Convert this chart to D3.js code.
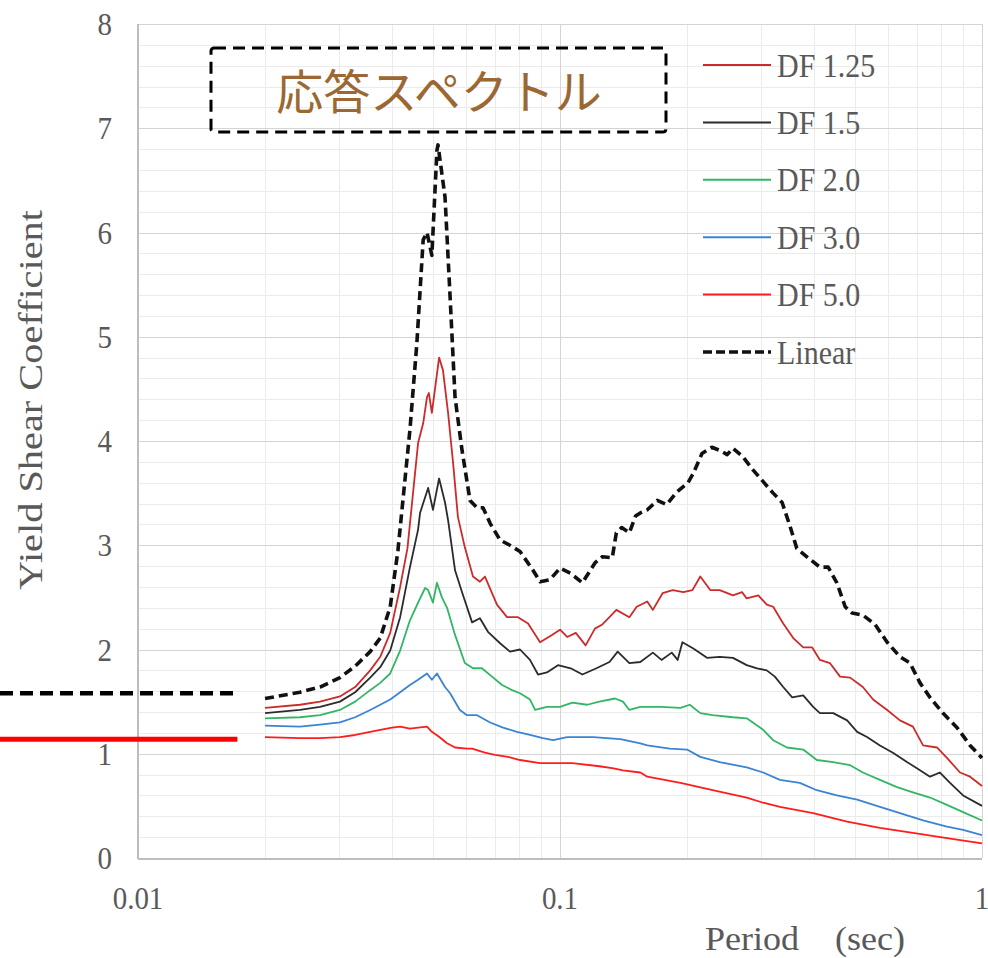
<!DOCTYPE html>
<html>
<head>
<meta charset="utf-8">
<script src="https://cdn.jsdelivr.net/npm/d3@7"></script>
<style>
  html, body { margin: 0; padding: 0; background: #fff; }
  svg { display: block; }
</style>
</head>
<body>
<svg id="chart"></svg>
<script>
/* Response spectrum: yield shear coefficient vs period, log x axis.
   Values. */

const seriesNames = ["DF 1.25", "DF 1.5", "DF 2.0", "DF 3.0", "DF 5.0", "Linear"];

// [period (sec), yield shear coefficient]
const df125 = [[0.020,1.44],[0.0242,1.47],[0.0270,1.50],[0.0301,1.55],[0.0327,1.64],[0.0355,1.80],[0.0375,1.93],[0.0396,2.16],[0.0418,2.60],[0.0435,2.97],[0.0461,3.98],[0.0474,4.17],[0.0484,4.42],[0.0489,4.46],[0.0497,4.27],[0.0517,4.80],[0.0528,4.68],[0.0543,4.27],[0.0558,3.79],[0.0573,3.27],[0.0595,2.98],[0.0622,2.70],[0.0646,2.65],[0.0664,2.70],[0.0709,2.43],[0.0749,2.31],[0.0795,2.31],[0.0840,2.25],[0.0897,2.07],[0.0957,2.14],[0.100,2.19],[0.104,2.12],[0.109,2.16],[0.115,2.04],[0.121,2.20],[0.126,2.24],[0.131,2.31],[0.136,2.38],[0.146,2.31],[0.152,2.41],[0.161,2.46],[0.166,2.38],[0.175,2.54],[0.185,2.57],[0.196,2.55],[0.206,2.57],[0.215,2.70],[0.227,2.57],[0.239,2.57],[0.257,2.52],[0.270,2.55],[0.277,2.49],[0.295,2.52],[0.309,2.43],[0.320,2.41],[0.338,2.25],[0.357,2.11],[0.377,2.02],[0.396,2.02],[0.413,1.90],[0.436,1.87],[0.461,1.74],[0.487,1.73],[0.522,1.64],[0.552,1.52],[0.596,1.42],[0.639,1.32],[0.686,1.26],[0.725,1.08],[0.782,1.06],[0.826,0.96],[0.887,0.82],[0.937,0.78],[1.0,0.69]];

const df15 = [[0.020,1.39],[0.0242,1.42],[0.0270,1.45],[0.0301,1.50],[0.0327,1.59],[0.0355,1.73],[0.0375,1.83],[0.0396,1.99],[0.0418,2.31],[0.0441,2.79],[0.0461,3.15],[0.0466,3.31],[0.0487,3.55],[0.0500,3.34],[0.0517,3.64],[0.0534,3.41],[0.0543,3.24],[0.0564,2.76],[0.0586,2.55],[0.0619,2.26],[0.0646,2.30],[0.0675,2.17],[0.0721,2.06],[0.0761,1.98],[0.0804,2.00],[0.0849,1.90],[0.0887,1.76],[0.0931,1.78],[0.0989,1.85],[0.106,1.82],[0.113,1.76],[0.122,1.82],[0.131,1.88],[0.137,1.98],[0.146,1.87],[0.155,1.88],[0.166,1.97],[0.174,1.90],[0.184,1.97],[0.190,1.90],[0.195,2.07],[0.207,2.01],[0.223,1.92],[0.239,1.93],[0.257,1.92],[0.277,1.85],[0.293,1.82],[0.309,1.80],[0.323,1.74],[0.338,1.64],[0.355,1.54],[0.377,1.56],[0.398,1.45],[0.413,1.39],[0.444,1.39],[0.479,1.32],[0.506,1.21],[0.534,1.16],[0.573,1.08],[0.615,1.01],[0.664,0.92],[0.701,0.86],[0.753,0.78],[0.795,0.82],[0.840,0.72],[0.902,0.60],[1.0,0.50]];

const df20 = [[0.020,1.34],[0.0242,1.35],[0.0270,1.37],[0.0301,1.42],[0.0327,1.50],[0.0355,1.61],[0.0375,1.68],[0.0396,1.77],[0.0418,1.99],[0.0441,2.28],[0.0461,2.45],[0.0479,2.59],[0.0487,2.57],[0.0500,2.45],[0.0511,2.64],[0.0525,2.50],[0.0540,2.40],[0.0564,2.14],[0.0595,1.87],[0.0622,1.82],[0.0653,1.82],[0.0690,1.74],[0.0729,1.66],[0.0770,1.61],[0.0804,1.58],[0.0849,1.52],[0.0873,1.42],[0.0931,1.45],[0.100,1.45],[0.107,1.49],[0.116,1.47],[0.124,1.50],[0.135,1.53],[0.141,1.50],[0.146,1.42],[0.155,1.45],[0.173,1.45],[0.193,1.44],[0.203,1.47],[0.215,1.39],[0.230,1.37],[0.257,1.35],[0.277,1.34],[0.303,1.23],[0.320,1.13],[0.345,1.06],[0.377,1.04],[0.406,0.94],[0.444,0.92],[0.487,0.89],[0.522,0.82],[0.573,0.75],[0.629,0.68],[0.686,0.63],[0.753,0.58],[0.826,0.51],[0.902,0.44],[1.0,0.36]];

const df30 = [[0.020,1.27],[0.0242,1.26],[0.0270,1.28],[0.0301,1.30],[0.0327,1.35],[0.0355,1.42],[0.0375,1.47],[0.0396,1.52],[0.0418,1.59],[0.0441,1.66],[0.0461,1.71],[0.0484,1.77],[0.0497,1.71],[0.0511,1.77],[0.0534,1.64],[0.0549,1.58],[0.0579,1.42],[0.0602,1.37],[0.0636,1.37],[0.0683,1.30],[0.0733,1.25],[0.0791,1.21],[0.0849,1.18],[0.0911,1.15],[0.0963,1.13],[0.104,1.16],[0.112,1.16],[0.120,1.16],[0.129,1.15],[0.139,1.14],[0.155,1.10],[0.161,1.08],[0.182,1.05],[0.200,1.04],[0.215,0.97],[0.239,0.92],[0.277,0.87],[0.303,0.82],[0.332,0.75],[0.370,0.72],[0.406,0.65],[0.453,0.60],[0.506,0.56],[0.573,0.49],[0.639,0.43],[0.725,0.36],[0.826,0.30],[0.902,0.27],[1.0,0.22]];

const df50 = [[0.020,1.16],[0.0242,1.15],[0.0270,1.15],[0.0301,1.16],[0.0327,1.18],[0.0355,1.21],[0.0375,1.23],[0.0400,1.25],[0.0418,1.26],[0.0441,1.24],[0.0461,1.25],[0.0484,1.26],[0.0497,1.21],[0.0514,1.17],[0.0540,1.10],[0.0564,1.06],[0.0602,1.05],[0.0619,1.05],[0.0664,1.01],[0.0701,0.99],[0.0753,0.97],[0.0804,0.94],[0.0897,0.91],[0.100,0.91],[0.107,0.91],[0.124,0.88],[0.134,0.86],[0.141,0.84],[0.155,0.82],[0.161,0.78],[0.193,0.72],[0.230,0.65],[0.277,0.58],[0.303,0.53],[0.332,0.49],[0.398,0.43],[0.479,0.35],[0.573,0.29],[0.686,0.24],[0.826,0.19],[1.0,0.14]];

const linear = [[0.020,1.53],[0.0242,1.59],[0.0270,1.64],[0.0301,1.73],[0.0327,1.84],[0.0355,1.98],[0.0375,2.11],[0.0396,2.41],[0.0413,2.95],[0.0441,4.11],[0.0458,4.94],[0.0474,5.93],[0.0484,6.00],[0.0497,5.78],[0.0511,6.79],[0.0514,6.84],[0.0534,6.34],[0.0549,5.38],[0.0564,4.42],[0.0586,3.91],[0.0612,3.43],[0.0636,3.36],[0.0657,3.36],[0.0683,3.21],[0.0721,3.05],[0.0761,3.00],[0.0804,2.94],[0.0863,2.76],[0.0897,2.65],[0.0947,2.67],[0.100,2.78],[0.106,2.73],[0.113,2.64],[0.121,2.83],[0.126,2.89],[0.133,2.88],[0.136,3.12],[0.140,3.17],[0.146,3.12],[0.151,3.28],[0.155,3.31],[0.161,3.34],[0.170,3.43],[0.179,3.39],[0.189,3.51],[0.201,3.60],[0.207,3.69],[0.217,3.88],[0.229,3.94],[0.239,3.91],[0.249,3.87],[0.257,3.93],[0.271,3.85],[0.287,3.72],[0.303,3.61],[0.320,3.50],[0.336,3.41],[0.351,3.18],[0.364,2.97],[0.387,2.88],[0.413,2.79],[0.432,2.79],[0.453,2.64],[0.474,2.41],[0.492,2.35],[0.522,2.33],[0.558,2.24],[0.596,2.07],[0.639,1.93],[0.675,1.87],[0.713,1.68],[0.753,1.54],[0.808,1.39],[0.873,1.25],[0.937,1.08],[1.0,0.96]];

const seriesData = [df125, df15, df20, df30, df50, linear];
const seriesColors = ["#cc2b2b", "#2b2b2b", "#33b566", "#3a84d2", "#ff1c1c", "#111111"];

const yTicks = [0, 1, 2, 3, 4, 5, 6, 7, 8];
const xTicks = [0.01, 0.1, 1];
const xTickLabels = ["0.01", "0.1", "1"];
const refLevels = [1.58, 1.14];   // marker lines at left edge (Linear, DF 5.0)
const titleText = "応答スペクトル";

(function drawChart() {
  const W = 988, H = 958;
  const m = { top: 24, right: 6, bottom: 100, left: 138 };
  const svg = d3.select("#chart").attr("width", W).attr("height", H);

  const x = d3.scaleLog().domain([0.01, 1]).range([m.left, W - m.right]);
  const y = d3.scaleLinear().domain([0, 8]).range([H - m.bottom, m.top]);
  const serif = "'Liberation Serif', 'Times New Roman', serif";
  const textGrey = "#595959";
  const tall = 1.1;   // glyphs in the source look slightly stretched vertically

  // Grid: minor every 0.2 on y, log minors on x
  const grid = svg.append("g").attr("shape-rendering", "crispEdges");
  const yMinor = d3.range(1, 41).map(i => i * 0.2).filter(v => Math.abs(v - Math.round(v)) > 1e-6);
  const xMinor = x.ticks().filter(t => !xTicks.some(v => Math.abs(v - t) < 1e-9));

  grid.selectAll(".ymin").data(yMinor).join("line")
    .attr("x1", m.left).attr("x2", W - m.right)
    .attr("y1", d => Math.round(y(d)) + 0.5).attr("y2", d => Math.round(y(d)) + 0.5)
    .attr("stroke", "#ebebeb").attr("stroke-width", 1.5);
  grid.selectAll(".xmin").data(xMinor).join("line")
    .attr("x1", d => Math.round(x(d)) + 0.5).attr("x2", d => Math.round(x(d)) + 0.5)
    .attr("y1", m.top).attr("y2", H - m.bottom)
    .attr("stroke", "#ebebeb").attr("stroke-width", 1.5);
  grid.selectAll(".ymaj").data(yTicks.slice(1)).join("line")
    .attr("x1", m.left).attr("x2", W - m.right)
    .attr("y1", d => Math.round(y(d)) + 0.5).attr("y2", d => Math.round(y(d)) + 0.5)
    .attr("stroke", "#d4d4d4").attr("stroke-width", 1.5);
  grid.selectAll(".xmaj").data(xTicks.slice(1)).join("line")
    .attr("x1", d => Math.round(x(d)) + 0.5).attr("x2", d => Math.round(x(d)) + 0.5)
    .attr("y1", m.top).attr("y2", H - m.bottom)
    .attr("stroke", "#d4d4d4").attr("stroke-width", 1.5);

  // Axis lines
  grid.append("line").attr("x1", m.left).attr("x2", m.left)
    .attr("y1", m.top).attr("y2", H - m.bottom + 1)
    .attr("stroke", "#bdbdbd").attr("stroke-width", 2);
  grid.append("line").attr("x1", m.left).attr("x2", W - m.right)
    .attr("y1", H - m.bottom + 1).attr("y2", H - m.bottom + 1)
    .attr("stroke", "#bdbdbd").attr("stroke-width", 2);

  // Tick labels (stretched a little vertically, like the source)
  svg.append("g").selectAll("text").data(yTicks).join("text")
    .attr("transform", d => `translate(112,${y(d)}) scale(1,${tall})`)
    .attr("dy", "0.35em")
    .attr("text-anchor", "end")
    .attr("font-family", serif).attr("font-size", 29)
    .attr("fill", textGrey)
    .text(d => d);
  svg.append("g").selectAll("text").data(xTicks).join("text")
    .attr("transform", d => `translate(${x(d)},909) scale(1,${tall})`)
    .attr("text-anchor", "middle")
    .attr("font-family", serif).attr("font-size", 29)
    .attr("fill", textGrey)
    .text((d, i) => xTickLabels[i]);

  // Axis titles
  svg.append("text")
    .attr("transform", "translate(42,400) rotate(-90)")
    .attr("text-anchor", "middle")
    .attr("font-family", serif).attr("font-size", 34)
    .attr("fill", textGrey)
    .attr("textLength", 380).attr("lengthAdjust", "spacingAndGlyphs")
    .text("Yield  Shear Coefficient");
  svg.append("text")
    .attr("transform", `translate(805,950) scale(1,${tall})`)
    .attr("text-anchor", "middle")
    .attr("font-family", serif).attr("font-size", 31)
    .attr("fill", textGrey)
    .attr("textLength", 200).attr("lengthAdjust", "spacingAndGlyphs")
    .attr("xml:space", "preserve")
    .text("Period    (sec)");

  // Series lines
  const line = d3.line().x(d => x(d[0])).y(d => y(d[1]));
  const order = [4, 3, 2, 1, 0, 5];
  svg.append("g").selectAll("path").data(order).join("path")
    .attr("d", i => line(seriesData[i]))
    .attr("fill", "none")
    .attr("stroke", i => seriesColors[i])
    .attr("stroke-width", i => i === 5 ? 3.6 : 1.8)
    .attr("stroke-dasharray", i => i === 5 ? "9,5" : null)
    .attr("stroke-linejoin", "round");

  // Marker lines at the left edge
  const refX2 = x(0.0172);
  svg.append("line")
    .attr("x1", 0).attr("x2", refX2)
    .attr("y1", y(refLevels[0])).attr("y2", y(refLevels[0]))
    .attr("stroke", "#000").attr("stroke-width", 4.5)
    .attr("stroke-dasharray", "13,7");
  svg.append("line")
    .attr("x1", 0).attr("x2", refX2)
    .attr("y1", y(refLevels[1])).attr("y2", y(refLevels[1]))
    .attr("stroke", "#ff0000").attr("stroke-width", 5);

  // Legend
  const lg = svg.append("g").attr("transform", "translate(703,65)");
  const rows = lg.selectAll("g").data(seriesNames).join("g")
    .attr("transform", (d, i) => `translate(0,${i * 57.4})`);
  rows.append("line")
    .attr("x1", 0).attr("x2", 68).attr("y1", 0).attr("y2", 0)
    .attr("stroke", (d, i) => seriesColors[i])
    .attr("stroke-width", (d, i) => i === 5 ? 3.6 : 2)
    .attr("stroke-dasharray", (d, i) => i === 5 ? "9,4" : null);
  rows.append("text")
    .attr("transform", `translate(74,0) scale(1,${tall})`)
    .attr("dy", "0.35em")
    .attr("font-family", serif).attr("font-size", 30)
    .attr("fill", textGrey)
    .text(d => d);

  // Title box
  svg.append("rect")
    .attr("x", 211).attr("y", 48).attr("width", 455).attr("height", 84)
    .attr("rx", 3)
    .attr("fill", "none").attr("stroke", "#000")
    .attr("stroke-width", 3).attr("stroke-dasharray", "12,7");
  svg.append("text")
    .attr("x", 439).attr("y", 92).attr("dy", "0.36em")
    .attr("text-anchor", "middle")
    .attr("font-family", "'Noto Sans CJK JP', sans-serif")
    .attr("font-size", 47)
    .attr("fill", "#9b6732")
    .text(titleText);
})();
</script>
</body>
</html>
